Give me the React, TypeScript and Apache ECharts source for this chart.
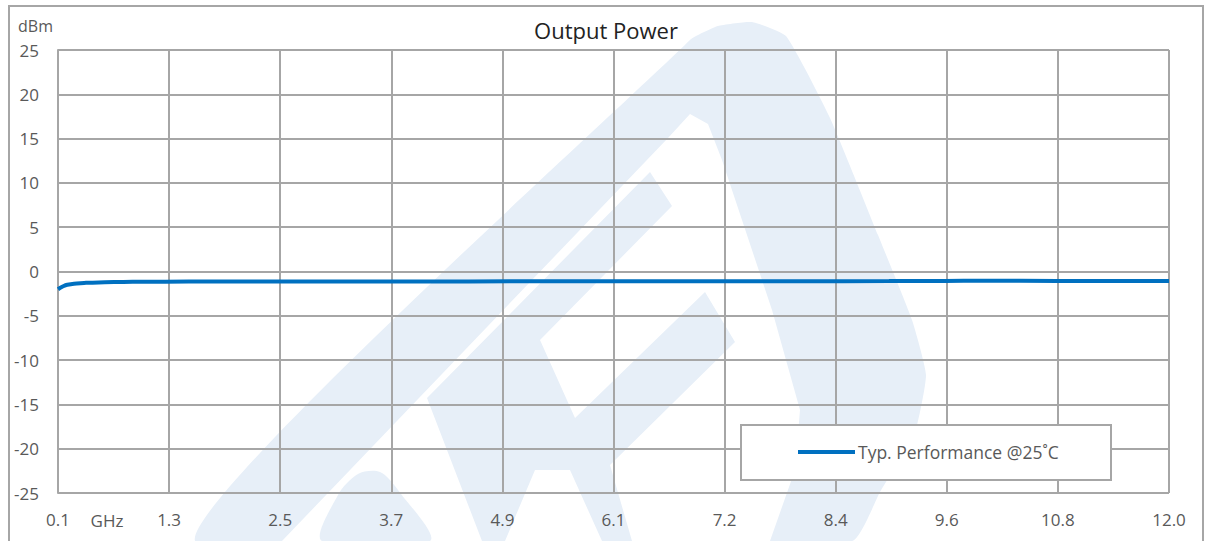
import React, { useEffect, useRef } from "react";
import * as echarts from "echarts";

// ---- data ----
const xTickLabels = ["0.1", "1.3", "2.5", "3.7", "4.9", "6.1", "7.2", "8.4", "9.6", "10.8", "12.0"];
const freqGHz = [0.1, 0.15, 0.2, 0.3, 0.4, 0.6, 0.8, 1.0, 1.5, 2.0, 3.0, 4.0, 5.0, 6.0, 7.0, 8.0, 9.0, 9.6, 10.0, 10.8, 11.5, 12.0];
const powerDbm = [-2.0, -1.7, -1.5, -1.35, -1.28, -1.22, -1.18, -1.16, -1.14, -1.13, -1.12, -1.12, -1.11, -1.11, -1.1, -1.1, -1.08, -1.06, -1.05, -1.07, -1.08, -1.06];
const yMin = -25;
const yMax = 25;
const yStep = 5;
const seriesName = "Typ. Performance @25˚C";
const chartTitle = "Output Power";
const yUnit = "dBm";
const xUnit = "GHz";

const FONT = "Open Sans";
const GRID_COLOR = "#a6a6a6";
const LABEL_COLOR = "#595959";
const WM = "#e7eff8";

export default function App() {
  const ref = useRef<HTMLDivElement>(null);
  useEffect(() => {
    if (!ref.current) return;
    const chart = echarts.init(ref.current, undefined, { renderer: "svg" });
    const option: any = {
      animation: false,
      backgroundColor: "#ffffff",
      title: {
        text: chartTitle,
        left: "center",
        top: 14,
        textStyle: { fontFamily: FONT, fontSize: 22, fontWeight: "normal", color: "#222222" },
      },
      grid: { left: 58, right: 43, top: 50, bottom: 48 },
      xAxis: [
        {
          type: "category",
          data: xTickLabels,
          boundaryGap: false,
          axisLine: { show: true, lineStyle: { color: GRID_COLOR, width: 2 } },
          axisTick: { show: false },
          axisLabel: { color: LABEL_COLOR, fontSize: 17, fontFamily: FONT, margin: 18, interval: 0 },
          splitLine: { show: true, lineStyle: { color: GRID_COLOR, width: 2 } },
          z: 1,
        },
        { type: "value", min: freqGHz[0], max: freqGHz[freqGHz.length - 1], show: false },
      ],
      yAxis: {
        type: "value",
        min: yMin,
        max: yMax,
        interval: yStep,
        axisLine: { show: true, lineStyle: { color: GRID_COLOR, width: 2 } },
        axisTick: { show: false },
        axisLabel: { color: LABEL_COLOR, fontSize: 17, fontFamily: FONT, margin: 19 },
        splitLine: { show: true, lineStyle: { color: GRID_COLOR, width: 2 } },
        z: 1,
      },
      legend: {
        data: [seriesName],
        left: 798,
        top: 443,
        padding: 0,
        icon: "rect",
        itemWidth: 57,
        itemHeight: 4,
        textStyle: { color: LABEL_COLOR, fontSize: 17.5, fontFamily: FONT, padding: [0, 0, 0, -2] },
        z: 5,
      },
      series: [
        {
          type: "line",
          name: seriesName,
          xAxisIndex: 1,
          data: freqGHz.map((f, i) => [f, powerDbm[i]]),
          smooth: true,
          symbol: "none",
          lineStyle: { color: "#0070c0", width: 4 },
          itemStyle: { color: "#0070c0" },
          z: 3,
        },
      ],
      graphic: [
        // watermark
        {
          type: "polygon",
          z: -10,
          silent: true,
          shape: {
            points: [[195, 541], [690, 40], [718, 26], [752, 22], [786, 36], [830, 118], [878, 235], [912, 320], [926, 375], [915, 432], [880, 492], [852, 541]],
            smooth: 0.15,
          },
          style: { fill: WM },
        },
        {
          type: "polygon",
          z: -9,
          silent: true,
          shape: {
            points: [[282, 541], [668, 138], [690, 114], [708, 124], [722, 160], [772, 310], [800, 410], [795, 470], [770, 541]],
          },
          style: { fill: "#ffffff" },
        },
        {
          type: "polygon",
          z: -8,
          silent: true,
          shape: {
            points: [[650, 172], [672, 206], [540, 340], [575, 418], [705, 292], [735, 342], [610, 465], [632, 541], [602, 541], [570, 470], [535, 470], [505, 541], [482, 541], [427, 398]],
          },
          style: { fill: WM },
        },
        {
          type: "polygon",
          z: -8,
          silent: true,
          shape: {
            points: [[322, 541], [338, 495], [358, 474], [380, 472], [398, 490], [430, 541]],
            smooth: 0.3,
          },
          style: { fill: WM },
        },
        // outer frame
        {
          type: "rect",
          z: -5,
          silent: true,
          shape: { x: 9, y: 6, width: 1194, height: 600 },
          style: { fill: "none", stroke: GRID_COLOR, lineWidth: 2 },
        },
        // legend box
        {
          type: "rect",
          z: 4,
          silent: true,
          shape: { x: 741, y: 425, width: 370, height: 55 },
          style: { fill: "#ffffff", stroke: GRID_COLOR, lineWidth: 2 },
        },
        // unit labels
        {
          type: "text",
          z: 5,
          x: 18,
          y: 26,
          style: { text: yUnit, fill: LABEL_COLOR, fontSize: 16, fontFamily: FONT, verticalAlign: "middle", align: "left" },
        },
        {
          type: "text",
          z: 5,
          x: 107,
          y: 520,
          style: { text: xUnit, fill: LABEL_COLOR, fontSize: 17, fontFamily: FONT, verticalAlign: "middle", align: "center" },
        },
      ],
    };
    chart.setOption(option);
    return () => chart.dispose();
  }, []);
  return (
    <div
      ref={ref}
      style={{ position: "fixed", left: 0, top: 0, width: 1212, height: 541, background: "#fff" }}
    />
  );
}
